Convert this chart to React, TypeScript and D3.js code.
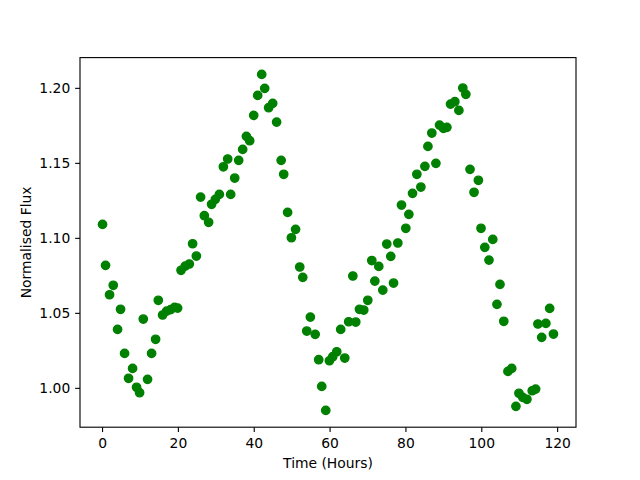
import React from "react";
import * as d3 from "d3";

const times: number[] = [
  0, 0.79, 1.85, 2.82, 3.96, 4.75, 5.81, 6.86, 7.92, 8.97,
  9.77, 10.74, 11.87, 12.93, 13.99, 14.7, 15.84, 16.9, 17.96, 19.0,
  19.8, 20.7, 21.8, 22.88, 23.75, 24.74, 25.86, 26.84, 27.97, 28.76,
  29.74, 30.8, 31.86, 33.0, 33.79, 34.85, 35.9, 36.95, 37.93, 38.8,
  39.86, 40.91, 41.97, 42.76, 43.8, 44.87, 45.9, 47.1, 47.77, 48.8,
  49.8, 50.9, 52.0, 52.8, 53.85, 54.8, 56.07, 57.0, 57.8, 58.86,
  59.83, 60.7, 61.76, 62.8, 63.87, 64.9, 66.0, 66.77, 67.75, 68.88,
  69.94, 71.0, 71.8, 72.84, 73.9, 74.95, 76.0, 76.73, 77.86, 78.83,
  79.97, 80.77, 81.74, 82.88, 83.94, 85.0, 85.8, 86.83, 87.9, 88.86,
  89.9, 90.8, 91.76, 92.9, 93.96, 95.0, 95.8, 96.9, 97.96, 99.1,
  99.8, 100.8, 101.9, 102.9, 104.0, 104.8, 105.8, 106.9, 107.9, 109.0,
  109.8, 110.8, 111.9, 113.3, 114.2, 114.8, 115.8, 116.9, 117.9, 118.9,
];

const flux: number[] = [
  1.1093, 1.082, 1.0624, 1.0687, 1.0393, 1.0527, 1.0233, 1.0067, 1.0133, 1.0007,
  0.9971, 1.0462, 1.006, 1.0233, 1.0327, 1.0587, 1.0489, 1.0515, 1.0525, 1.054,
  1.0535, 1.0787, 1.0815, 1.0829, 1.0964, 1.0882, 1.1275, 1.1151, 1.1107, 1.1227,
  1.126, 1.1293, 1.1477, 1.1529, 1.1293, 1.1402, 1.152, 1.1593, 1.168, 1.1651,
  1.182, 1.1953, 1.2093, 1.2, 1.1871, 1.19, 1.1775, 1.152, 1.1427, 1.1173,
  1.1004, 1.106, 1.0809, 1.074, 1.0382, 1.0475, 1.036, 1.0191, 1.0013, 0.9853,
  1.0184, 1.0211, 1.0244, 1.0393, 1.0202, 1.0444, 1.0749, 1.0442, 1.0527, 1.0522,
  1.0587, 1.0852, 1.0715, 1.0813, 1.0655, 1.0962, 1.088, 1.0702, 1.0969, 1.1222,
  1.1067, 1.116, 1.13, 1.1427, 1.1342, 1.148, 1.1613, 1.1702, 1.15, 1.1755,
  1.1733, 1.174, 1.1895, 1.1911, 1.1853, 1.2002, 1.196, 1.146, 1.1307, 1.1387,
  1.1067, 1.094, 1.0855, 1.0993, 1.056, 1.0693, 1.0447, 1.0113, 1.0133, 0.988,
  0.9967, 0.994, 0.9927, 0.9984, 0.9995, 1.0429, 1.034, 1.0433, 1.0533, 1.0362,
];

const xTicks: number[] = [0, 20, 40, 60, 80, 100, 120];
const yTicks: number[] = [1.0, 1.05, 1.1, 1.15, 1.2];
const xLabel = "Time (Hours)";
const yLabel = "Normalised Flux";

const W = 640;
const H = 480;
const left = 80;
const right = 576;
const top = 57.6;
const bottom = 427.2;
const font = "'DejaVu Sans', sans-serif";
const fs = 13.89;
const tickLen = 4.86;

function padded(vals: number[]): [number, number] {
  const [a, b] = d3.extent(vals) as [number, number];
  const m = (b - a) * 0.05;
  return [a - m, b + m];
}

export default function App() {
  const x = d3.scaleLinear().domain(padded(times)).range([left, right]);
  const y = d3.scaleLinear().domain(padded(flux)).range([bottom, top]);
  const pts = times.map((t, i) => ({ t, f: flux[i] }));

  return (
    <svg width={W} height={H} style={{ display: "block", position: "absolute", left: 0, top: 0 }}>
      <rect x={0} y={0} width={W} height={H} fill="#ffffff" />
      <g>
        {pts.map((p, i) => (
          <circle
            key={i}
            cx={x(p.t)}
            cy={y(p.f)}
            r={4.17}
            fill="#008000"
            stroke="#008000"
            strokeWidth={1.39}
          />
        ))}
      </g>
      <rect
        x={left}
        y={top}
        width={right - left}
        height={bottom - top}
        fill="none"
        stroke="#000"
        strokeWidth={1.11}
      />
      {xTicks.map((t) => (
        <g key={"x" + t}>
          <line x1={x(t)} x2={x(t)} y1={bottom} y2={bottom + tickLen} stroke="#000" strokeWidth={1.11} />
          <text
            x={x(t)}
            y={448.3}
            textAnchor="middle"
            fontFamily={font}
            fontSize={fs}
            fill="#000"
          >
            {t}
          </text>
        </g>
      ))}
      {yTicks.map((v) => (
        <g key={"y" + v}>
          <line x1={left - tickLen} x2={left} y1={y(v)} y2={y(v)} stroke="#000" strokeWidth={1.11} />
          <text
            x={left - tickLen - 4.86}
            y={y(v) + 5.05}
            textAnchor="end"
            fontFamily={font}
            fontSize={fs}
            fill="#000"
          >
            {d3.format(".2f")(v)}
          </text>
        </g>
      ))}
      <text
        x={(left + right) / 2}
        y={468}
        textAnchor="middle"
        fontFamily={font}
        fontSize={fs}
        fill="#000"
      >
        {xLabel}
      </text>
      <text
        transform={`translate(31,${(top + bottom) / 2}) rotate(-90)`}
        textAnchor="middle"
        fontFamily={font}
        fontSize={fs}
        fill="#000"
      >
        {yLabel}
      </text>
    </svg>
  );
}
